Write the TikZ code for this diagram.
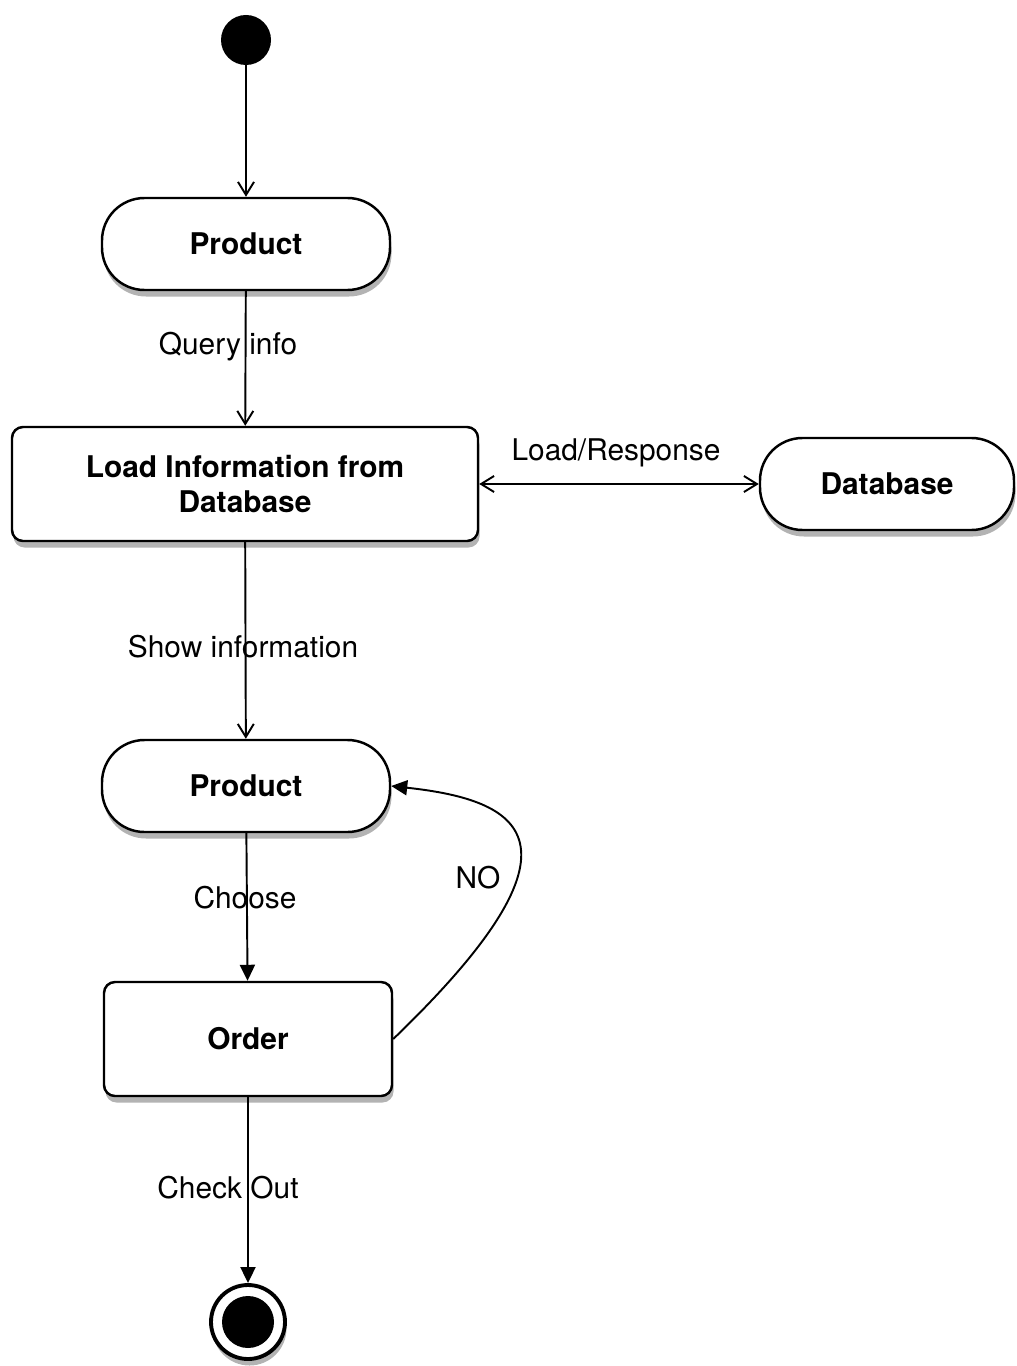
\documentclass[tikz,border=0pt]{standalone}
\usepackage{fontspec}
\setmainfont{TeX Gyre Heros}
\usetikzlibrary{arrows.meta,shadows}

\begin{document}
\begin{tikzpicture}[x=0.2mm, y=-0.2mm,
	every node/.style={font=\fontsize{17}{20}\selectfont},
	boxshadow/.style={drop shadow={shadow xshift=0.3mm, shadow yshift=-1.3mm, opacity=0.6}},
	state/.style={draw, line width=1.4pt, fill=white, rounded corners=0.85cm, boxshadow,
		font=\fontsize{17}{20}\selectfont\bfseries},
	action/.style={draw, line width=1.4pt, fill=white, rounded corners=0.22cm, boxshadow, align=center,
		font=\fontsize{17}{20}\selectfont\bfseries},
	flow/.style={line width=1.1pt},
	vee/.style={flow, -{Straight Barb[length=2.6mm, width=3.2mm, line width=1.1pt]}},
	tri/.style={flow, -{Triangle[length=3.2mm, width=3mm]}}
	]
			%%%%% START %%%%%
			
			\useasboundingbox (0, 0) rectangle (1016, 1366);
			
			\node[circle, fill=black, minimum size=1cm, inner sep=0pt] (start) at (246, 40) {};
			
			\node[state, minimum width=5.76cm, minimum height=1.84cm] (prod1) at (246, 244) {Product};
			\node[action, minimum width=9.32cm, minimum height=2.28cm] (load) at (245, 484) {Load Information from\\Database};
			\node[state, minimum width=5.08cm, minimum height=1.84cm] (db) at (887, 484) {Database};
			\node[state, minimum width=5.76cm, minimum height=1.84cm] (prod2) at (246, 786) {Product};
			\node[action, minimum width=5.76cm, minimum height=2.28cm] (order) at (248, 1039) {Order};
			
			\node[circle, draw, line width=2.2pt, minimum size=1.48cm, inner sep=0pt, fill=white, boxshadow] (stop) at (248, 1322) {};
			\fill (stop.center) circle [radius=0.52cm];
			
			\draw[vee] (start) -- (prod1);
			\draw[vee] (prod1) -- (load);
			\draw[flow, {Straight Barb[length=2.6mm, width=3.2mm, line width=1.1pt]}-{Straight Barb[length=2.6mm, width=3.2mm, line width=1.1pt]}] (load.east) -- (db.west);
			\draw[vee] (load) -- (prod2);
			\draw[tri] (prod2) -- (order);
			\draw[tri] (order.east) .. controls (600, 840) and (520, 800) .. (prod2.east);
			\draw[tri] (order) -- (stop);
			
			\node (q) at (228, 347) {Query info};
			\node (lr) at (616, 453) {Load/Response};
			\node (si) at (243, 647) {Show information};
			\node (ch) at (245, 898) {Choose};
			\node (no) at (478, 878) {NO};
			\node (co) at (228, 1188) {Check Out};
			
			%%%%% END %%%%%
\end{tikzpicture}
\end{document}
